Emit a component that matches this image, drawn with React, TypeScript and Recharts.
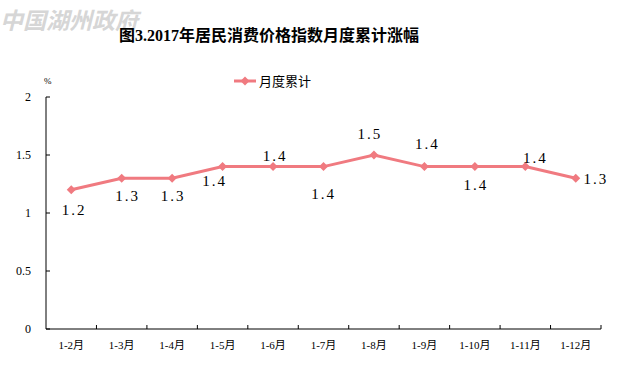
import { LineChart, Line, XAxis, YAxis, LabelList } from 'recharts';

const months = ['1-2月', '1-3月', '1-4月', '1-5月', '1-6月', '1-7月', '1-8月', '1-9月', '1-10月', '1-11月', '1-12月'];
const cumulative = [1.2, 1.3, 1.3, 1.4, 1.4, 1.4, 1.5, 1.4, 1.4, 1.4, 1.3];
const yTicks = [0, 0.5, 1, 1.5, 2];

const seriesName = '月度累计';
const title = '图3.2017年居民消费价格指数月度累计涨幅';

// label offsets from each point, same order as months
const labelOffsets = [
  [3, 20], [6, 18], [1, 18], [-8, 14], [2, -11], [0, 27],
  [-4, -21], [3, -23], [1, 18], [10, -9], [20, 1],
];

const W = 621;
const H = 385;
const PLOT_LEFT = 46;
const PLOT_RIGHT = 601;
const PLOT_TOP = 97;
const PLOT_BOTTOM = 329;
const BAND = (PLOT_RIGHT - PLOT_LEFT) / months.length;
const LINE_COLOR = '#f07a80';
const SERIF = '"Liberation Serif", "Noto Sans CJK SC", serif';

const data = months.map((m, i) => ({ month: m, value: cumulative[i] }));

const Diamond = ({ cx, cy }: any) => (
  <path d={`M${cx},${cy - 4.5}L${cx + 4.5},${cy}L${cx},${cy + 4.5}L${cx - 4.5},${cy}Z`} fill={LINE_COLOR} />
);

const XTick = ({ x, y, payload }: any) => (
  <g>
    <line x1={x + BAND / 2} x2={x + BAND / 2} y1={PLOT_BOTTOM} y2={PLOT_BOTTOM - 4} stroke="#000" />
    <text x={x} y={y + 12} textAnchor="middle" fontSize={11} fontFamily={SERIF} fill="#000">
      {payload.value}
    </text>
  </g>
);

const YTick = ({ y, payload }: any) => (
  <g>
    <line x1={PLOT_LEFT} x2={PLOT_LEFT + 4} y1={y} y2={y} stroke="#000" />
    <text x={PLOT_LEFT - 15} y={y} textAnchor="end" dominantBaseline="central" fontSize={12} fontFamily={SERIF} fill="#000">
      {payload.value}
    </text>
  </g>
);

const PointLabel = ({ x, y, value, index }: any) => {
  const [dx, dy] = labelOffsets[index];
  return (
    <text x={x + dx} y={y + dy} textAnchor="middle" dominantBaseline="central" fontSize={15} letterSpacing={2} fontFamily={SERIF} fill="#000">
      {Number(value).toFixed(1)}
    </text>
  );
};

export default function App() {
  return (
    <div style={{ position: 'absolute', left: 0, top: 0, width: W, height: H, background: '#fff' }}>
      <div style={{ position: 'absolute', left: 0, top: 2, fontSize: 23, fontWeight: 'bold', color: '#d6d6d6', fontFamily: '"Noto Sans CJK SC", sans-serif', fontStyle: 'italic' }}>
        中国湖州政府
      </div>
      <div style={{ position: 'absolute', left: 0, width: 538, top: 22, textAlign: 'center', fontSize: 16, fontWeight: 'bold', fontFamily: SERIF, color: '#000' }}>
        {title}
      </div>
      <div style={{ position: 'absolute', left: 44, top: 76, fontSize: 9, fontFamily: SERIF }}>%</div>
      <div style={{ position: 'absolute', left: 233, top: 71, display: 'flex', alignItems: 'center' }}>
        <svg width={24} height={12}>
          <line x1={1} x2={23} y1={6} y2={6} stroke={LINE_COLOR} strokeWidth={3} />
          <path d="M12,1.5L16.5,6L12,10.5L7.5,6Z" fill={LINE_COLOR} />
        </svg>
        <span style={{ fontSize: 13, fontFamily: SERIF, marginLeft: 2, color: '#000' }}>{seriesName}</span>
      </div>
      <LineChart width={W} height={H} data={data} margin={{ top: PLOT_TOP, right: W - PLOT_RIGHT, bottom: 0, left: 0 }} style={{ position: 'absolute', left: 0, top: 0 }}>
        <XAxis
          dataKey="month"
          height={H - PLOT_BOTTOM}
          axisLine={{ stroke: '#000' }}
          tickLine={false}
          tick={<XTick />}
          interval={0}
          padding={{ left: BAND / 2, right: BAND / 2 }}
        />
        <YAxis
          width={PLOT_LEFT}
          domain={[0, 2]}
          ticks={yTicks}
          axisLine={{ stroke: '#000' }}
          tickLine={false}
          tick={<YTick />}
        />
        <Line
          dataKey="value"
          name={seriesName}
          stroke={LINE_COLOR}
          strokeWidth={3}
          dot={<Diamond />}
          activeDot={false}
          isAnimationActive={false}
        >
          <LabelList dataKey="value" content={<PointLabel />} />
        </Line>
      </LineChart>
    </div>
  );
}
